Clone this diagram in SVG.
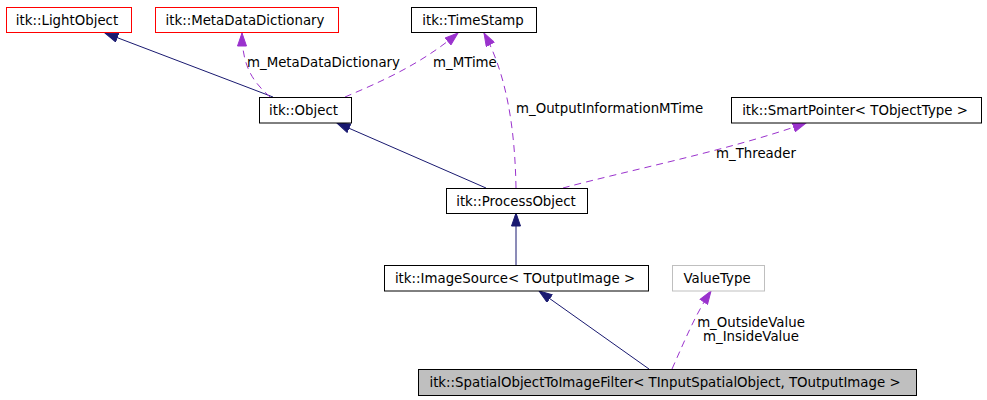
<svg xmlns="http://www.w3.org/2000/svg" width="987" height="400" viewBox="0 0 987 400">
<style>
text{font-family:"DejaVu Sans","Bitstream Vera Sans",sans-serif;font-size:13.33px;fill:#000}
.n text{text-anchor:middle}
.box{fill:#fff;stroke:#000;stroke-width:1}
.red{stroke:#ff0000}
.grey{stroke:#bfbfbf}
.focus{fill:#bfbfbf}
.inh{fill:none;stroke:#191970;stroke-width:1;marker-end:url(#aInh)}
.use{fill:none;stroke:#9a32cd;stroke-width:1;stroke-dasharray:7,5;marker-end:url(#aUse)}
</style>
<defs>
<marker id="aInh" viewBox="0 0 14 10" refX="13.5" refY="5" markerWidth="14" markerHeight="10" markerUnits="userSpaceOnUse" orient="auto">
<path d="M0.5,0.5 L13.5,5 L0.5,9.5 z" fill="#191970" stroke="#191970" stroke-width="1"/>
</marker>
<marker id="aUse" viewBox="0 0 14 10" refX="13.5" refY="5" markerWidth="14" markerHeight="10" markerUnits="userSpaceOnUse" orient="auto">
<path d="M0.5,0.5 L13.5,5 L0.5,9.5 z" fill="#9a32cd" stroke="#9a32cd" stroke-width="1"/>
</marker>
</defs>
<g id="edges">
<path class="inh" d="M273,97 L105,33"/>
<path class="use" d="M270,97 C256,84 242,70 242,33"/>
<path class="use" d="M345,97 C380,82 420,65 458,33"/>
<path class="inh" d="M486,188 L337,123"/>
<path class="use" d="M516,188 C515,130 507,75 484,33"/>
<path class="use" d="M563,188 C630,170 730,150 806,123"/>
<path class="inh" d="M516,266 L516,213"/>
<path class="inh" d="M649,369 L539,291"/>
<path class="use" d="M672,369 C685,340 695,315 711,291"/>
<text x="247" y="67">m_MetaDataDictionary</text>
<text x="433" y="67">m_MTime</text>
<text x="516" y="113">m_OutputInformationMTime</text>
<text x="716" y="158">m_Threader</text>
<text x="751" y="327" text-anchor="middle">m_OutsideValue</text>
<text x="751" y="341" text-anchor="middle">m_InsideValue</text>
</g>
<g id="LightObject" class="n"><rect class="box red" x="6.5" y="7.5" width="125" height="25"/><text x="67" y="24.5">itk::LightObject</text></g>
<g id="MetaDataDictionary" class="n"><rect class="box red" x="155.5" y="7.5" width="183" height="25"/><text x="245" y="24.5">itk::MetaDataDictionary</text></g>
<g id="TimeStamp" class="n"><rect class="box" x="411.5" y="7.5" width="125" height="25"/><text x="473" y="24.5">itk::TimeStamp</text></g>
<g id="Object" class="n"><rect class="box" x="259.5" y="97.5" width="92" height="25.5"/><text x="303.5" y="115">itk::Object</text></g>
<g id="SmartPointer" class="n"><rect class="box" x="731.5" y="97.5" width="250" height="25.5"/><text x="855" y="115">itk::SmartPointer&lt; TObjectType &gt;</text></g>
<g id="ProcessObject" class="n"><rect class="box" x="446.5" y="188.5" width="141" height="25"/><text x="516" y="205.5">itk::ProcessObject</text></g>
<g id="ImageSource" class="n"><rect class="box" x="384.5" y="265.5" width="264" height="25.5"/><text x="515" y="283">itk::ImageSource&lt; TOutputImage &gt;</text></g>
<g id="ValueType" class="n"><rect class="box grey" x="672.5" y="265.5" width="92" height="25.5"/><text x="717" y="283">ValueType</text></g>
<g id="SpatialObjectToImageFilter" class="n"><rect class="box focus" x="418.5" y="369.5" width="498" height="26"/><text x="665" y="387">itk::SpatialObjectToImageFilter&lt; TInputSpatialObject, TOutputImage &gt;</text></g>
</svg>
